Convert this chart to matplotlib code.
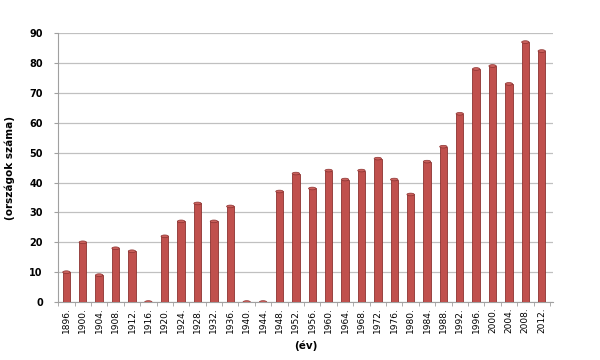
import numpy as np
import matplotlib.pyplot as plt
from matplotlib.patches import Ellipse

# Adatok
years = ['1896.', '1900.', '1904.', '1908.', '1912.', '1916.', '1920.', '1924.',
         '1928.', '1932.', '1936.', '1940.', '1944.', '1948.', '1952.', '1956.',
         '1960.', '1964.', '1968.', '1972.', '1976.', '1980.', '1984.', '1988.',
         '1992.', '1996.', '2000.', '2004.', '2008.', '2012.']
countries = [10, 20, 9, 18, 17, 0, 22, 27, 33, 27, 32, 0, 0, 37, 43, 38,
             44, 41, 44, 48, 41, 36, 47, 52, 63, 78, 79, 73, 87, 84]

bar_color = '#C0504D'
edge_color = '#8C3230'

fig = plt.figure(figsize=(6, 3.6), dpi=100)
ax = fig.add_axes([0.097, 0.161, 0.825, 0.747])

x = np.arange(len(years))
w = 0.45
ax.bar(x, countries, width=w, color=bar_color, edgecolor=edge_color,
       linewidth=0.6, zorder=3)

# hengerek teteje
for xi, v in zip(x, countries):
    ax.add_patch(Ellipse((xi, v), w, 0.9, facecolor='#C9605C',
                         edgecolor=edge_color, linewidth=0.5, zorder=4))

ax.set_xlim(-0.45, 29.7)
ax.set_ylim(0, 90)
ax.set_yticks(range(0, 91, 10))
ax.set_xticks(x)
ax.set_xticklabels(years, rotation=90, fontsize=6.5)
ax.set_xticks(np.arange(-0.5, len(years), 1), minor=True)
ax.tick_params(axis='x', which='major', length=0, pad=4)
ax.tick_params(axis='x', which='minor', length=3, color='#A0A0A0')
ax.tick_params(axis='y', length=3, color='#A0A0A0', labelsize=7, pad=8)
for lbl in ax.get_yticklabels():
    lbl.set_fontweight('bold')

ax.grid(axis='y', color='#C0C0C0', linewidth=0.9, zorder=0)
for side in ['top', 'right']:
    ax.spines[side].set_visible(False)
ax.spines['left'].set_color('#A0A0A0')
ax.spines['bottom'].set_color('#A0A0A0')

ax.set_xlabel('(év)', fontsize=7.5, fontweight='bold', labelpad=5)
ax.set_ylabel('(országok száma)', fontsize=7.5, fontweight='bold', labelpad=10)

fig.savefig('out.png', dpi=100)
